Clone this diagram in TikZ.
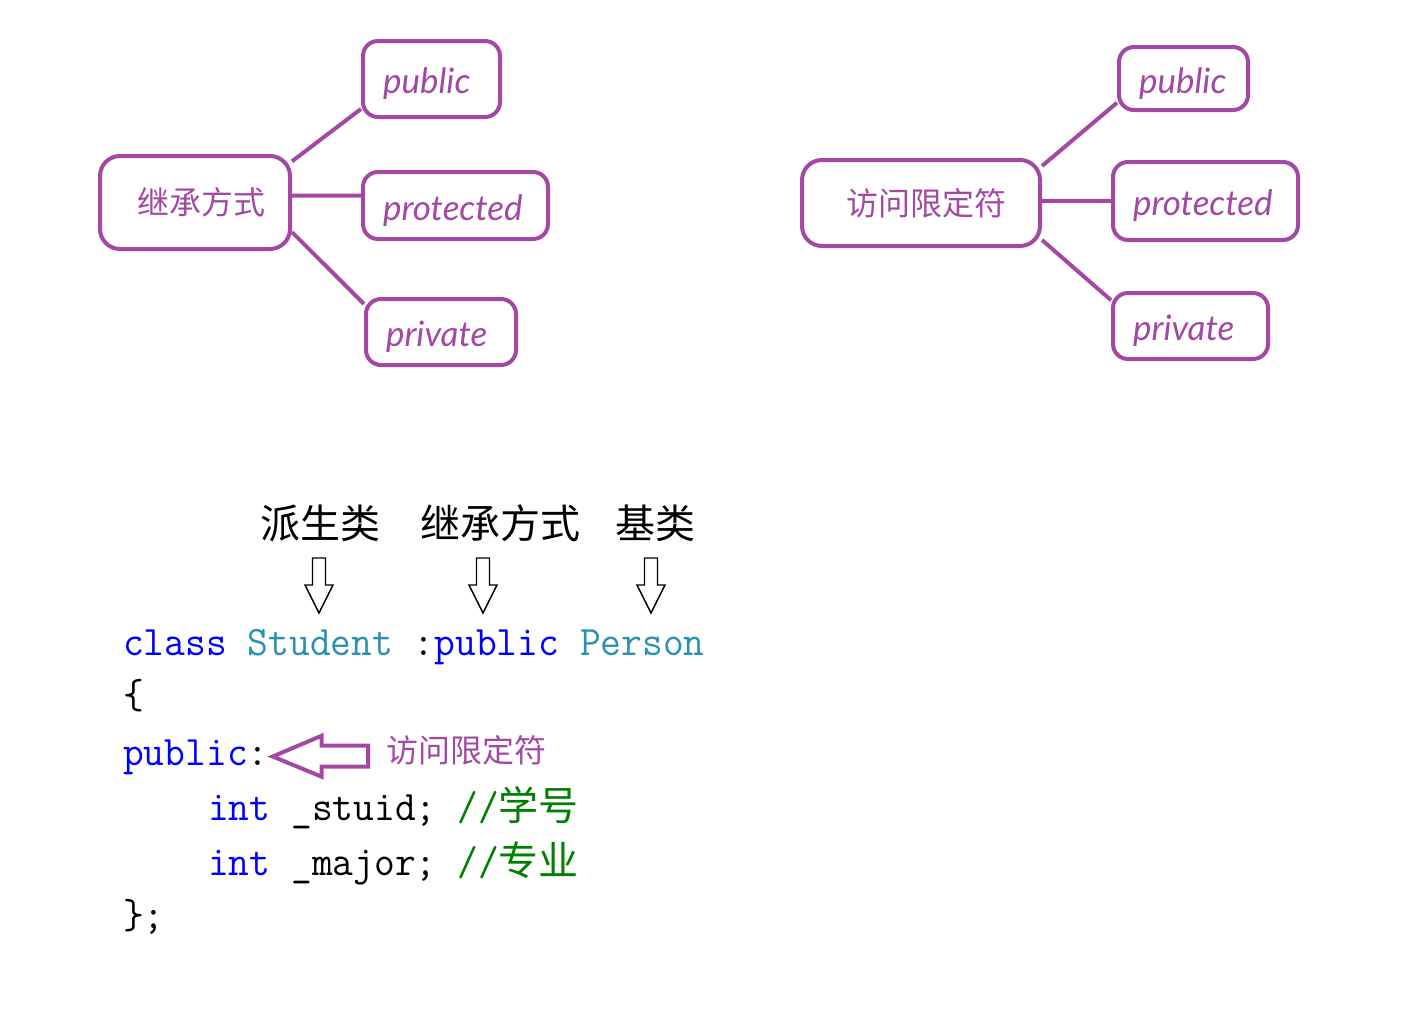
\documentclass[tikz,border=0pt]{standalone}
\usepackage{fontspec}
\newfontfamily\cjkfont{Noto Sans CJK SC}
\newfontfamily\handfont{Lato}
\newfontfamily\codefont[FakeStretch=0.96]{Latin Modern Mono}
\definecolor{pur}{HTML}{A349A4}
\definecolor{kw}{HTML}{0000FF}
\definecolor{ty}{HTML}{2B91AF}
\definecolor{cm}{HTML}{008000}
\tikzset{
  rootbox/.style={draw=pur, line width=4pt, rounded corners=20pt, text=pur,
    font=\cjkfont\fontsize{32}{36}\selectfont, inner sep=0pt},
  leafbox/.style={draw=pur, line width=4pt, rounded corners=15pt, text=pur,
    font=\handfont\itshape\fontsize{35}{38}\selectfont, inner xsep=20pt, inner ysep=0pt, align=left,
    text height=36pt, text depth=7pt},
  link/.style={draw=pur, line width=4pt},
  head/.style={font=\cjkfont\fontsize{40}{44}\selectfont, inner sep=0pt},
  codeline/.style={font=\codefont\fontsize{42}{46}\selectfont, inner sep=0pt, anchor=base west},
  hollow/.style={draw=black, line width=1.4pt, line join=miter, fill=white},
  purarrow/.style={draw=pur, line width=4pt, line join=miter, fill=white}
}
\begin{document}
\begin{tikzpicture}[x=1pt, y=-1pt]
\useasboundingbox (0,0) rectangle (1405,1012);
\fill[white] (0,0) rectangle (1405,1012);

% left tree
\node[rootbox, minimum width=190pt, minimum height=93pt] (lroot) at (195,202.5) {\hspace*{12pt}继承方式};
\node[leafbox, text width=97pt, minimum height=76pt] (lpub) at (431.5,79) {public};
\node[leafbox, text width=145pt, minimum height=67pt] (lpro) at (455.5,205.5) {protected};
\node[leafbox, text width=110pt, minimum height=66pt] (lpri) at (441,332) {private};
\draw[link] (lroot.23) -- (lpub.203);
\draw[link] (lroot.4) -- (lpro.174);
\draw[link] (lroot.-17) -- (lpri.160);

% right tree
\node[rootbox, minimum width=238pt, minimum height=86pt] (rroot) at (921,203) {\hspace*{10pt}访问限定符};
\node[leafbox, text width=89pt, minimum height=63pt] (rpub) at (1183.5,78.5) {public};
\node[leafbox, text width=145pt, minimum height=78pt] (rpro) at (1205.5,201) {protected};
\node[leafbox, text width=115pt, minimum height=66pt] (rpri) at (1190.5,326) {private};
\draw[link] (rroot.17) -- (rpub.200);
\draw[link] (rroot.1) -- (rpro.west);
\draw[link] (rroot.-17) -- (rpri.162);

% headings
\node[head] (hd) at (320.5,523) {派生类};
\node[head] (hi) at (500.5,523) {继承方式};
\node[head] (hb) at (655,523) {基类};

% hollow down arrows
\foreach \cx in {319,483,651}{
  \draw[hollow] (\cx-6.5,558) -- (\cx+6.5,558) -- (\cx+6.5,585) -- (\cx+14,585)
    -- (\cx,613) -- (\cx-14,585) -- (\cx-6.5,585) -- cycle;
}

% code
\node[codeline] (c1) at (123,655) {{\color{kw}class} {\color{ty}Student} :{\color{kw}public} {\color{ty}Person}};
\node[codeline] (c2) at (123,708) {\{};
\node[codeline] (c3) at (123,765) {{\color{kw}public}:};
\node[codeline] (c4) at (208,820) {{\color{kw}int} \_stuid; {\color{cm}//{\cjkfont\fontsize{40}{44}\selectfont 学号}}};
\node[codeline] (c5) at (208,875) {{\color{kw}int} \_major; {\color{cm}//{\cjkfont\fontsize{40}{44}\selectfont 专业}}};
\node[codeline] (c6) at (123,928) {\};};

% purple hollow arrow and label
\draw[purarrow] (272.7,756.5) -- (321.7,735.7) -- (321.7,745.7) -- (368,745.7)
  -- (368,766.7) -- (321.7,766.7) -- (321.7,776.7) -- cycle;
\node[text=pur, font=\cjkfont\fontsize{32}{36}\selectfont, inner sep=0pt, anchor=west] (lbl) at (386,750) {访问限定符};
\end{tikzpicture}
\end{document}
